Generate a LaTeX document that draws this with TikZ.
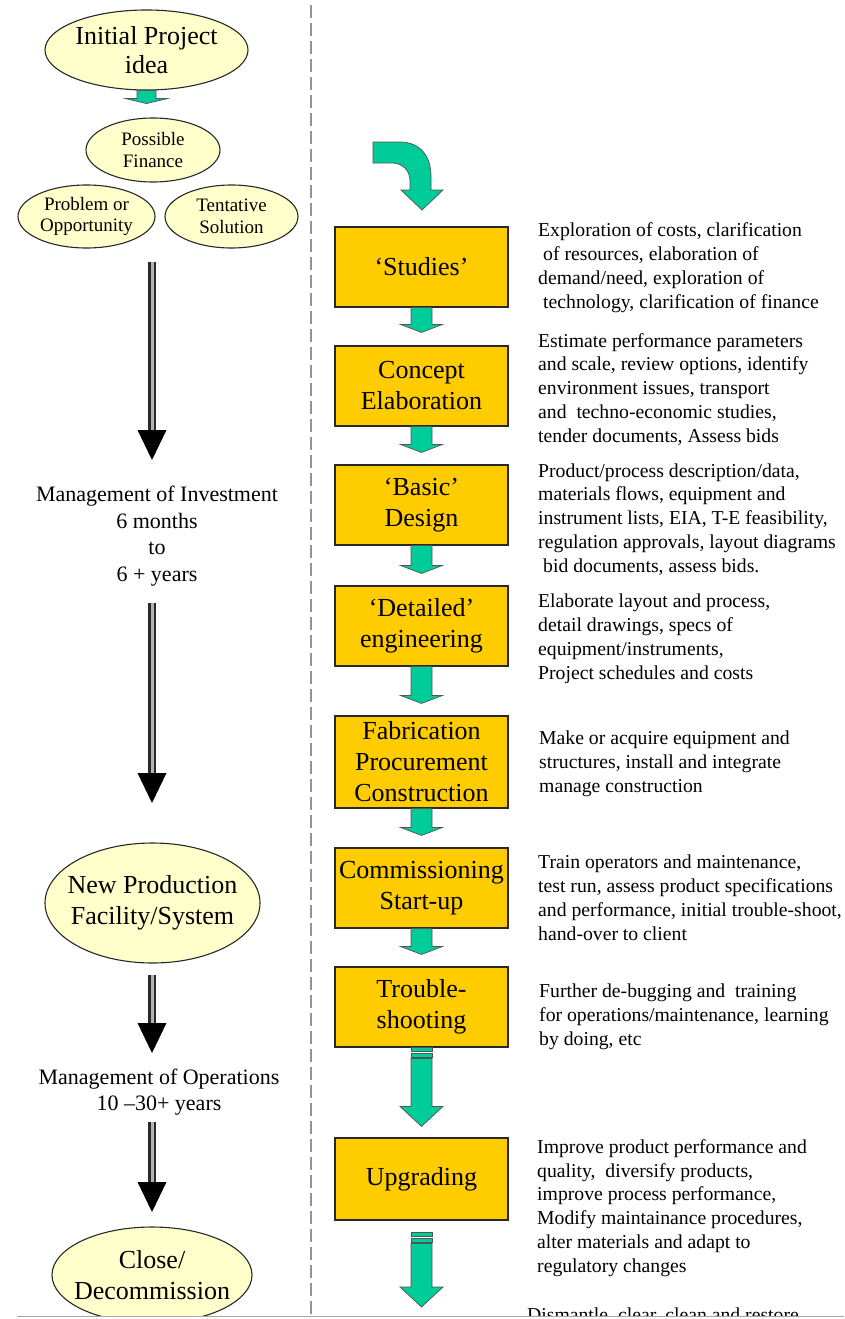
\documentclass[tikz,border=0pt]{standalone}
\usepackage{fontspec}
\setmainfont{Liberation Serif}
\usetikzlibrary{calc,shapes.geometric}

\definecolor{ellfill}{RGB}{255,255,204}
\definecolor{boxfill}{RGB}{255,204,0}
\definecolor{arrgreen}{RGB}{0,204,153}
\definecolor{edge}{RGB}{40,40,40}

\tikzset{
  idea/.style={ellipse, draw=edge, line width=1.1pt, fill=ellfill, inner sep=0pt},
  ideatext/.style={align=center, inner sep=0pt},
  stage/.style={rectangle, draw=edge, line width=1.1pt, fill=boxfill,
    minimum width=173pt, inner sep=1pt, align=center,
    font=\fontsize{26}{31}\selectfont},
  % anchored at the baseline of the last line
  note/.style={anchor=base west, align=left, inner sep=0pt,
    font=\fontsize{19.7}{23.7}\selectfont},
  period/.style={align=center, inner sep=0pt, font=\fontsize{22}{26.5}\selectfont},
  garrow/.style={fill=arrgreen, draw=edge!80, line width=0.7pt, line join=miter},
}

% green block arrow: start, tip, head length, shaft half width, head half width
\newcommand{\flowarrow}[5]{%
  \filldraw[garrow] ($#1+(-#4,0)$) -- ($#2+(-#4,-#3)$) -- ($#2+(-#5,-#3)$) -- #2
    -- ($#2+(#5,-#3)$) -- ($#2+(#4,-#3)$) -- ($#1+(#4,0)$) -- cycle;}

% green block arrow with two stripes at its tail
\newcommand{\stripedarrow}[2]{%
  \coordinate (stripetail) at #1;
  \filldraw[garrow] ($(stripetail)+(-10.5,0)$) rectangle ($(stripetail)+(10.5,4)$);
  \filldraw[garrow] ($(stripetail)+(-10.5,5.5)$) rectangle ($(stripetail)+(10.5,9.5)$);
  \coordinate (stripeshaft) at ($(stripetail)+(0,11)$);
  \flowarrow{(stripeshaft)}{#2}{20}{10.5}{21.5}}

% black time arrow with a hollow double shaft
\newcommand{\timearrow}[2]{%
  \draw[line width=8pt, edge] #1 -- ($#2+(0,-29)$);
  \draw[line width=3pt, gray!60] #1 -- ($#2+(0,-29)$);
  \fill[black] #2 -- ($#2+(-14.5,-30)$) -- ($#2+(14.5,-30)$) -- cycle;}

\begin{document}
\begin{tikzpicture}[x=1pt, y=-1pt]
\useasboundingbox (0,0) rectangle (844,1319);
\fill[white] (0,0) rectangle (844,1319);

% divider between the two columns
\draw[gray!85, line width=2.2pt, dash pattern=on 13pt off 5pt] (311,5) -- (311,1319);

\begin{scope}
\clip (0,0) rectangle (844,1315.5);

% ---------- left column: life of the facility ----------
\node[idea, minimum width=203pt, minimum height=80pt] (init) at (146.5,50) {};
\node[ideatext, font=\fontsize{26}{29}\selectfont] (init-t) at (init) {Initial Project\\idea};

\node[idea, minimum width=134pt, minimum height=64pt] (fin) at (153,150) {};
\node[ideatext, font=\fontsize{19}{21.5}\selectfont] (fin-t) at (fin) {Possible\\Finance};

\node[idea, minimum width=137pt, minimum height=63pt] (prob) at (86.5,216.5) {};
\node[ideatext, font=\fontsize{19}{21.5}\selectfont] (prob-t) at (prob) {Problem or\\Opportunity};

\node[idea, minimum width=133pt, minimum height=63pt] (tent) at (231.5,216.5) {};
\node[ideatext, font=\fontsize{19}{21.5}\selectfont] (tent-t) at (tent) {Tentative\\Solution};

\flowarrow{(init.south)}{($(init.south)+(0,13)$)}{5}{9.5}{21}

\node[period] (inv) at (157,536) {Management of Investment\\6 months\\to\\6 + years};

\node[idea, minimum width=215pt, minimum height=120pt] (newfac) at (152.5,903) {};
\node[ideatext, font=\fontsize{26}{31}\selectfont] (newfac-t) at (newfac) {New Production\\Facility/System};

\node[period] (ops) at (159,1092) {Management of Operations\\10 –30+ years};

\node[idea, minimum width=200pt, minimum height=96pt] (close) at (152,1275) {};
\node[ideatext, font=\fontsize{26}{31}\selectfont] (close-t) at (close) {Close/\\Decommission};

\coordinate (t1s) at (152,262);  \coordinate (t1e) at (152,460);
\coordinate (t2s) at (152,603);  \coordinate (t2e) at (152,803);
\coordinate (t3s) at (152,975);  \coordinate (t3e) at (152,1053);
\coordinate (t4s) at (152,1122); \coordinate (t4e) at (152,1212);
\timearrow{(t1s)}{(t1e)}
\timearrow{(t2s)}{(t2e)}
\timearrow{(t3s)}{(t3e)}
\timearrow{(t4s)}{(t4e)}

% ---------- right column: project stages ----------
\node[stage, minimum height=80pt] (studies) at (421.5,267) {‘Studies’};
\node[stage, minimum height=80pt] (concept) at (421.5,386) {Concept\\Elaboration};
\node[stage, minimum height=80pt] (basic) at (421.5,505) {‘Basic’\\Design};
\node[stage, minimum height=80pt] (detail) at (421.5,626) {‘Detailed’\\engineering};
\node[stage, minimum height=92pt] (fab) at (421.5,762) {Fabrication\\Procurement\\Construction};
\node[stage, minimum height=80pt] (comm) at (421.5,888) {Commissioning\\Start-up};
\node[stage, minimum height=80pt] (trouble) at (421.5,1007) {Trouble-\\shooting};
\node[stage, minimum height=82pt] (upgrade) at (421.5,1179) {Upgrading};

% entry arrow into the first stage
\filldraw[garrow] (373,142) -- (400,142) .. controls (420,142) and (431,156) .. (431,176)
  -- (431,190) -- (443,190) -- (422,210) -- (401,190) -- (410,190) -- (410,181)
  .. controls (410,170) and (402,163) .. (392,163) -- (373,163) -- cycle;

\flowarrow{(studies.south)}{($(concept.north)+(0,-13)$)}{8}{10.5}{21}
\flowarrow{(concept.south)}{($(basic.north)+(0,-12)$)}{8}{10.5}{21}
\flowarrow{(basic.south)}{($(detail.north)+(0,-12)$)}{8}{10.5}{21}
\flowarrow{(detail.south)}{($(fab.north)+(0,-12)$)}{8}{10.5}{21}
\flowarrow{(fab.south)}{($(comm.north)+(0,-12)$)}{8}{10.5}{21}
\flowarrow{(comm.south)}{($(trouble.north)+(0,-12)$)}{8}{10.5}{21}
\stripedarrow{(trouble.south)}{($(upgrade.north)+(0,-11)$)}
\coordinate (endtip) at (421.5,1307);
\stripedarrow{($(upgrade.south)+(0,12)$)}{(endtip)}

% ---------- stage descriptions (positions give the last baseline) ----------
\node[note] (n1) at (538,308) {Exploration of costs, clarification\\\hspace*{5pt}of resources, elaboration of\\demand/need, exploration of\\\hspace*{5pt}technology, clarification of finance};
\node[note] (n2) at (538,442) {Estimate performance parameters\\and scale, review options, identify\\environment issues, transport\\and\ \ techno-economic studies,\\tender documents, Assess bids};
\node[note] (n3) at (538,572) {Product/process description/data,\\materials flows, equipment and\\instrument lists, EIA, T-E feasibility,\\regulation approvals, layout diagrams\\\hspace*{5pt}bid documents, assess bids.};
\node[note] (n4) at (538,679) {Elaborate layout and process,\\detail drawings, specs of\\equipment/instruments,\\Project schedules and costs};
\node[note] (n5) at (539,792) {Make or acquire equipment and\\structures, install and integrate\\manage construction};
\node[note] (n6) at (538,940) {Train operators and maintenance,\\test run, assess product specifications\\and performance, initial trouble-shoot,\\hand-over to client};
\node[note] (n7) at (539,1045) {Further de-bugging and\ \ training\\for operations/maintenance, learning\\by doing, etc};
\node[note] (n8) at (537,1272) {Improve product performance and\\quality,\ \ diversify products,\\improve process performance,\\Modify maintainance procedures,\\alter materials and adapt to\\regulatory changes};
\node[note] (n9) at (527,1321) {Dismantle, clear, clean and restore};
\end{scope}

% lower edge of the sheet
\draw[gray!70, line width=1.5pt] (17,1316.5) -- (844,1316.5);
\end{tikzpicture}
\end{document}
